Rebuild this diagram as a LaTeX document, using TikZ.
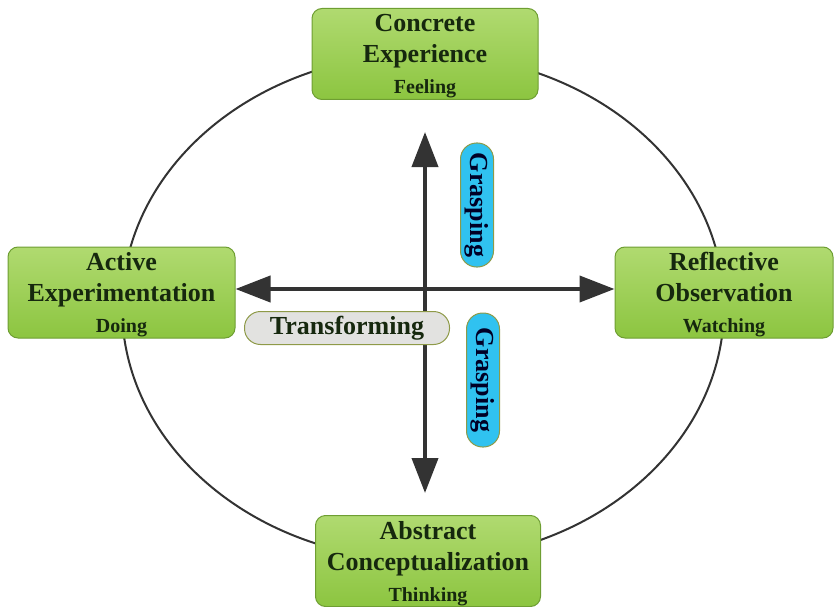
\documentclass[tikz,border=0pt]{standalone}
\usepackage{fontspec}
\setmainfont{Liberation Serif}
\usetikzlibrary{arrows.meta,positioning}

\definecolor{greentop}{HTML}{B0DA70}
\definecolor{greenbot}{HTML}{8CC540}
\definecolor{greenedge}{HTML}{6E9E32}
\definecolor{textdark}{HTML}{16280E}
\definecolor{graspfill}{HTML}{30C2F0}
\definecolor{pilledge}{HTML}{8E9A48}
\definecolor{transfill}{HTML}{E2E2E0}
\definecolor{axisgray}{HTML}{333333}

\newcommand{\subtext}{\fontsize{20}{24}\selectfont}

\tikzset{
  stage/.style={draw=greenedge, line width=1pt, rounded corners=10pt,
    top color=greentop, bottom color=greenbot, minimum height=91pt,
    inner sep=0pt, align=center, text=textdark, text depth=0pt,
    font=\bfseries\fontsize{26}{31}\selectfont},
  pill/.style={draw=pilledge, line width=1pt, rounded corners=16pt,
    minimum height=33pt, inner sep=0pt, font=\bfseries\fontsize{26}{31}\selectfont},
  axis/.style={draw=axisgray, line width=4pt,
    {Triangle[length=35pt,width=26pt]}-{Triangle[length=35pt,width=26pt]}}
}

\begin{document}
\begin{tikzpicture}[x=1pt,y=-1pt]
    \useasboundingbox (0,0) rectangle (835,607);

    % Learning cycle
    \draw[axisgray, line width=2pt] (423,307) ellipse (301 and 253);

    % Four stages
    \node[stage, minimum width=226pt] (ce) at (425,54)
        {Concrete\\Experience\\{\subtext Feeling}};
    \node[stage, minimum width=227pt] (ae) at (121.5,292.5)
        {Active\\Experimentation\\{\subtext Doing}};
    \node[stage, minimum width=218pt] (ro) at (724,292.5)
        {Reflective\\Observation\\{\subtext Watching}};
    \node[stage, minimum width=225pt] (ac) at (428,561)
        {Abstract\\Conceptualization\\{\subtext Thinking}};

    % Axes
    \coordinate (gtop) at (425,132);
    \coordinate (gbot) at (425,493);
    \draw[axis] (ae.east |- 0,289) -- (ro.west |- 0,289);
    \draw[axis] (gtop) -- (gbot);

    % Labels on the axes
    \node[pill, fill=transfill, text=textdark, minimum width=205pt] (trans) at (347,328) {Transforming};
    \node[pill, fill=graspfill, text=black!85!blue, minimum width=124pt, rotate=-90] (graspA) at (477,205) {Grasping};
    \node[pill, fill=graspfill, text=black!85!blue, minimum width=134pt, rotate=-90] (graspB) at (483,380) {Grasping};
\end{tikzpicture}
\end{document}
